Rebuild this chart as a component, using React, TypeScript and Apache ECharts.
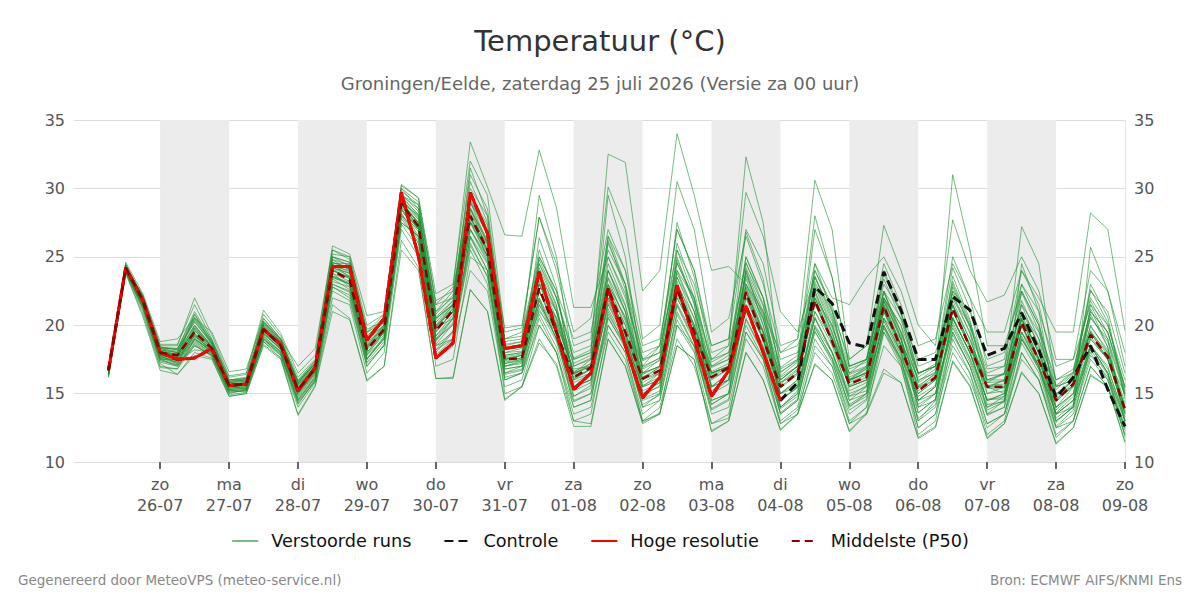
import React, { useEffect, useRef } from "react";
import * as echarts from "echarts";

const FONT = "DejaVu Sans";

// x axis: hours relative to zo 26-07 00:00
const dayHours = [0, 24, 48, 72, 96, 120, 144, 168, 192, 216, 240, 264, 288, 312, 336];
const dayNames = ["zo", "ma", "di", "wo", "do", "vr", "za", "zo", "ma", "di", "wo", "do", "vr", "za", "zo"];
const dayDates = ["26-07", "27-07", "28-07", "29-07", "30-07", "31-07", "01-08", "02-08", "03-08", "04-08", "05-08", "06-08", "07-08", "08-08", "09-08"];
const shadedDays: [number, number][] = [[0, 24], [48, 72], [96, 120], [144, 168], [192, 216], [240, 264], [288, 312]];
const X_MIN = -30;
const X_MAX = 336;
const FIRST_HOUR = -18; // za 25-07 06:00
const STEP_HOURS = 6;

const Y_MIN = 10;
const Y_MAX = 35;
const Y_STEP = 5;

const controle = [
  16.7, 24.2, 21.8, 18.0, 17.5, 17.6, 18.3, 15.6, 15.7, 19.7, 18.6, 15.2, 16.9,
  24.3, 24.3, 18.9, 20.5, 29.7, 25.0, 17.6, 18.7, 29.7, 26.7, 18.3, 18.5,
  23.9, 19.5, 15.3, 16.5, 22.7, 18.5, 14.7, 16.2, 22.9, 19.0, 14.8, 16.7, 21.4, 18.0,
  14.5, 15.8, 22.8, 21.6, 18.7, 18.4, 23.9, 21.1, 17.5, 17.5, 22.1, 21.1, 17.8, 18.3, 20.9, 18.2, 14.7, 16.2, 18.5, 15.3, 12.6,
];

const hogeResolutie = [
  16.7, 24.2, 21.8, 18.0, 17.5, 17.6, 18.3, 15.6, 15.7, 19.7, 18.6, 15.2, 16.9,
  24.3, 24.3, 18.9, 20.5, 29.7, 25.0, 17.6, 18.7, 29.7, 26.7, 18.3, 18.5,
  23.9, 19.5, 15.3, 16.5, 22.7, 18.5, 14.7, 16.2, 22.9, 19.0, 14.8, 16.7, 21.4, 18.0,
  14.5,
];

const middelste = [
  16.7, 24.2, 21.8, 18.0, 17.8, 19.5, 18.3, 15.6, 15.7, 19.7, 18.5, 15.3, 16.8,
  24.0, 23.3, 18.2, 19.7, 28.9, 27.2, 19.6, 21.1, 28.0, 25.5, 17.5, 17.6,
  22.7, 19.5, 16.2, 16.9, 22.7, 19.5, 16.1, 16.7, 22.6, 19.5, 16.2, 16.9, 22.4, 19.0,
  15.5, 16.5, 21.8, 18.8, 15.7, 16.2, 21.4, 18.3, 15.2, 16.2, 21.2, 18.4, 15.5, 15.5, 20.2, 17.4, 14.5, 15.7, 19.3, 17.7, 13.8,
];

const run01 = [16.4,24.0,21.5,17.8,17.2,19.0,18.0,15.4,15.5,19.4,18.3,15.0,16.5, 23.6,23.0,18.0,19.5,29.2,27.8,19.0,20.0,28.5,26.0,17.0,17.4, 21.5,19.0,15.5,16.0,24.0,21.0,15.0,15.8,25.0,21.5,15.5,16.5,24.0,20.0, 14.5,15.5,20.5,18.0,14.8,15.6,22.5,19.0,14.0,15.0,20.0,17.5,14.0,14.8,19.0,17.0,13.5,14.5,18.5,17.0,13.0];
const run02 = [16.8,24.4,22.0,18.4,18.2,21.0,18.9,16.0,16.2,20.5,19.0,15.9,17.2, 25.2,25.0,19.5,20.2,30.0,28.5,20.5,21.5,31.5,28.0,18.5,18.8, 25.5,22.0,17.5,18.0,26.5,23.0,17.0,18.5,27.0,24.0,18.0,18.5,32.3,27.5, 16.5,17.5,23.5,20.5,16.5,17.0,22.0,20.0,16.5,17.0,23.0,20.0,15.8,16.5,27.2,24.5,15.5,16.0,21.0,19.5,15.0];
const run03 = [16.6,24.1,21.7,17.5,17.0,18.5,17.8,15.0,15.3,18.8,17.8,14.2,16.0, 22.8,22.0,17.2,18.5,28.0,26.0,18.5,19.0,26.5,24.0,16.0,16.5, 20.0,18.0,14.0,14.5,20.5,18.5,14.0,14.5,20.0,18.5,13.5,14.0,19.5,17.5, 13.0,14.0,19.0,17.0,13.5,14.5,19.5,17.5,13.0,14.0,18.5,16.5,12.8,13.5,18.0,16.0,12.5,13.5,17.5,16.0,12.0];
const run04 = [16.9,24.3,22.2,18.5,18.5,22.0,19.3,16.3,16.5,21.1,19.4,16.5,17.8, 25.8,25.2,20.7,21.0,30.3,29.3,22.3,23.0,32.0,29.5,19.5,19.8, 27.9,24.0,18.5,19.0,30.1,27.0,19.0,20.0,30.5,27.0,19.5,20.5,26.5,23.0, 18.0,19.0,30.6,27.0,17.5,18.5,24.5,21.5,17.0,17.5,22.5,20.0,16.0,16.5,21.5,19.5,15.0,16.0,22.5,21.0,16.5];
const run05 = [16.5,23.9,21.2,17.2,16.4,17.8,17.5,14.8,15.0,18.5,17.5,13.4,15.5, 21.0,20.4,15.9,17.0,25.5,24.0,16.1,16.1,22.6,21.0,14.5,15.5, 19.0,17.0,12.6,12.6,19.0,17.0,12.8,13.5,18.5,17.5,12.2,13.0,18.0,16.0, 12.3,13.5,17.1,16.0,12.2,13.5,16.5,15.8,11.7,12.5,17.3,15.5,11.7,12.8,16.5,15.0,11.3,12.5,16.3,15.5,11.4];
const run06 = [16.7,24.2,21.9,18.2,18.0,20.0,18.5,15.7,15.8,19.9,18.6,15.5,17.0, 24.2,23.8,18.5,19.8,29.0,27.0,19.8,21.5,29.5,26.5,17.8,18.0, 23.5,20.5,16.5,17.0,22.0,19.0,15.5,16.5,23.5,20.5,16.5,17.0,22.0,19.0, 15.0,16.0,22.5,19.5,15.5,16.0,21.0,18.0,15.0,16.0,21.5,18.5,15.5,15.0,20.0,17.0,14.0,15.5,19.0,17.5,13.5];
const run07 = [16.3,23.9,21.0,17.0,16.8,19.0,18.1,15.3,15.4,19.0,18.1,14.7,16.2, 23.0,22.5,17.5,19.0,28.0,27.0,19.0,20.5,27.0,25.0,16.8,17.0, 24.5,21.5,15.5,16.0,21.5,19.0,14.5,15.0,22.5,20.0,15.0,16.0,21.0,18.5, 14.0,15.0,20.5,18.0,14.5,15.5,21.0,18.5,14.5,15.5,19.5,17.0,13.5,14.0,24.5,21.0,14.0,15.0,20.0,18.0,14.0];
const run08 = [16.6,24.1,21.6,17.9,17.8,19.2,18.2,15.5,15.6,19.6,18.4,15.2,16.7, 24.5,24.5,18.8,20.5,29.5,28.5,20.0,21.0,27.5,26.0,17.2,17.5, 21.0,19.5,16.0,16.8,29.5,25.0,16.5,17.5,27.5,23.5,17.5,18.0,23.0,20.5, 16.0,17.0,23.0,20.0,16.0,16.5,21.8,19.0,15.5,16.0,20.5,18.0,14.5,15.0,19.5,17.0,13.0,14.0,25.7,22.5,17.0];
const run09 = [16.8,24.3,22.1,18.1,17.6,20.8,18.6,15.8,16.0,20.0,18.8,15.8,17.2, 24.8,24.0,18.9,20.0,29.0,28.0,21.0,22.5,30.5,27.5,18.8,19.0, 29.5,25.0,17.0,17.5,24.5,21.5,16.0,17.0,26.0,22.5,17.0,17.5,25.0,22.0, 16.8,17.5,28.0,23.5,17.0,17.5,24.0,21.0,16.5,17.0,25.0,22.0,17.0,17.5,24.0,21.5,16.0,16.5,22.0,20.0,15.5];
const run10 = [16.4,24.0,21.3,17.5,17.5,18.8,17.9,15.2,15.3,19.2,18.0,14.5,16.0, 23.5,23.0,17.8,19.0,28.5,26.5,18.0,19.5,26.0,23.5,16.5,16.8, 22.0,19.0,14.5,15.0,20.0,18.0,13.5,14.5,21.0,18.5,13.8,14.5,20.5,18.0, 13.5,14.5,19.5,17.5,13.0,14.0,20.0,17.5,12.5,13.5,19.5,17.0,12.8,13.5,19.0,17.0,12.5,13.0,17.0,15.5,12.0];
const run11 = [16.7,24.2,22.0,18.6,18.6,21.5,19.0,16.2,16.4,20.8,19.2,16.2,17.5, 25.5,25.0,20.0,20.8,30.0,29.0,21.5,22.0,31.0,28.5,19.0,19.5, 25.0,22.5,19.0,19.5,25.5,23.0,18.0,18.5,24.0,22.0,17.5,18.5,24.5,22.0, 17.5,18.0,24.0,21.5,17.0,17.5,23.0,21.0,16.5,17.0,22.5,21.0,17.5,18.0,23.0,21.0,17.0,17.5,21.5,20.0,16.0];
const run12 = [16.5,24.0,21.4,17.6,17.2,19.8,18.4,15.5,15.6,19.5,18.2,15.0,16.5, 23.8,22.8,17.5,19.2,28.2,26.2,18.8,20.5,28.0,25.0,17.0,17.2, 22.5,20.0,15.5,16.5,22.5,20.0,15.8,16.5,22.0,19.5,15.5,16.5,22.5,19.5, 15.0,16.0,21.5,19.0,15.5,16.0,21.0,18.5,14.5,15.5,21.0,18.5,15.0,15.5,20.0,17.5,14.0,15.0,19.0,17.5,13.5];
const run13 = [16.9,24.6,22.3,18.8,19.0,20.5,19.5,16.6,16.8,20.5,19.0,17.0,18.3, 25.5,24.8,19.0,20.0,29.5,28.0,20.5,21.5,29.0,26.0,18.0,18.3, 23.0,21.0,17.5,18.0,32.5,31.9,22.5,24.0,34.0,29.5,24.0,24.3,23.0,21.0, 18.0,18.5,22.0,20.0,16.5,17.5,22.5,20.5,17.5,18.0,22.0,20.0,16.5,17.0,21.0,19.0,15.5,16.0,20.5,19.0,15.0];
const run14 = [16.2,23.8,20.8,16.9,16.8,18.5,17.8,14.9,15.1,18.8,17.6,14.0,15.8, 22.0,21.5,16.5,18.0,27.0,25.0,17.5,18.5,24.0,22.5,15.5,16.0, 20.5,18.0,13.5,14.0,19.5,17.5,13.0,14.0,19.0,17.0,12.8,13.5,19.0,17.0, 12.8,13.8,18.0,16.5,12.8,14.0,18.5,17.0,12.5,13.5,18.0,16.0,12.5,13.5,17.5,16.0,12.0,13.0,17.0,15.5,12.5];
const run15 = [16.6,24.1,21.8,18.0,17.9,19.6,18.3,15.6,15.7,19.8,18.5,15.4,17.0, 24.3,24.0,18.3,19.8,29.0,27.5,19.5,21.0,28.5,26.0,17.5,17.8, 23.0,20.0,16.8,17.0,23.0,20.5,16.5,17.0,22.8,20.0,16.5,17.0,22.5,19.5, 15.8,16.5,22.0,19.0,16.0,16.5,21.5,18.5,15.5,16.5,21.5,18.5,16.0,16.0,20.5,17.5,14.8,16.0,19.5,18.0,14.0];
const run16 = [16.5,24.0,21.9,18.3,18.3,20.2,18.7,15.9,16.1,20.3,18.9,15.7,17.1, 24.6,24.2,19.2,20.5,29.5,28.8,21.8,22.5,29.0,27.0,19.8,20.0, 27.9,24.5,19.5,20.5,27.0,24.0,18.5,19.0,25.5,23.0,18.5,19.0,29.7,26.5, 21.0,19.5,23.5,21.0,17.5,18.5,27.3,24.0,20.0,18.5,27.7,24.0,21.7,22.2,25.0,22.5,17.5,17.5,24.0,22.5,18.0];
const run17 = [16.7,24.2,21.6,17.7,17.4,18.2,18.0,15.2,15.2,18.9,17.9,14.5,16.2, 23.2,22.8,17.8,19.5,28.5,27.0,18.2,19.0,25.5,23.0,16.0,16.5, 21.5,19.5,14.0,14.5,21.0,18.5,14.0,15.0,24.0,21.0,14.5,15.0,21.5,19.0, 13.5,14.5,20.0,18.0,14.0,15.0,20.5,18.0,13.0,14.5,20.5,18.0,14.5,15.0,20.5,18.0,13.5,14.5,18.0,16.0,12.5];
const run18 = [16.8,24.4,22.0,18.2,17.8,20.0,18.4,15.8,15.9,20.0,18.7,15.6,17.0, 24.5,23.5,18.5,20.0,29.0,27.5,20.0,21.5,28.5,25.5,17.5,17.8, 24.0,21.0,16.5,17.0,23.5,21.0,16.5,17.0,23.5,21.0,16.5,17.0,24.0,21.0, 16.0,17.0,27.0,23.5,17.0,17.5,22.5,19.5,16.0,16.5,31.0,25.5,18.5,18.5,22.5,20.0,15.5,16.5,21.0,19.5,15.5];
const run19 = [16.4,23.9,21.2,17.4,17.1,18.6,17.7,15.1,15.2,19.0,17.8,14.3,15.9, 22.5,21.8,17.0,18.5,27.5,26.5,17.0,17.5,25.0,24.0,15.0,15.5, 20.0,18.0,13.0,13.5,20.0,18.0,13.0,13.5,20.0,18.0,12.8,13.2,19.5,17.5, 12.8,13.5,18.5,17.0,12.8,13.5,19.5,17.0,12.0,13.0,19.0,16.5,12.0,13.0,18.0,16.0,11.8,13.0,18.5,16.5,11.8];
const run20 = [16.7,24.3,21.9,18.1,17.7,19.4,18.2,15.6,15.7,19.7,18.5,15.3,16.8, 24.0,23.5,18.2,19.6,28.8,27.2,19.6,21.0,28.0,25.5,17.5,17.6, 22.5,19.5,16.2,16.8,22.5,19.5,16.0,16.5,22.5,19.5,16.2,17.0,22.5,19.0, 15.5,16.5,21.8,18.8,15.5,16.0,21.5,18.5,15.0,16.0,21.0,18.5,15.5,15.5,20.0,17.5,14.5,15.5,19.5,17.5,14.0];
const run21 = [16.6,24.1,21.7,17.9,17.6,19.0,18.1,15.4,15.5,19.3,18.3,15.1,16.6, 24.0,23.5,18.5,19.5,28.8,27.5,19.8,20.5,27.5,25.0,17.8,18.0, 23.5,21.0,16.5,17.5,24.0,21.0,15.5,16.0,25.5,22.0,15.5,16.0,25.0,22.0, 14.5,15.5,24.5,21.0,16.0,16.5,22.0,20.0,14.5,15.5,22.0,19.5,13.5,14.5,22.5,20.0,13.0,14.0,21.5,19.0,13.0];
const run22 = [16.5,24.0,21.5,17.7,17.3,19.3,18.0,15.3,15.4,19.4,18.2,14.9,16.4, 23.5,23.0,17.5,19.0,27.5,26.5,18.5,19.5,26.5,24.5,16.5,17.0, 25.0,22.5,16.0,16.5,26.0,23.0,15.0,15.5,23.0,20.5,14.5,15.0,22.0,19.5, 14.0,15.0,21.0,19.0,14.5,15.0,20.5,19.0,14.0,14.5,20.5,18.0,14.0,14.5,19.5,17.5,13.5,14.0,18.5,16.5,13.0];
const run23 = [16.8,24.3,22.1,18.4,18.3,20.8,18.9,16.0,16.1,20.2,18.9,16.0,17.4, 25.0,24.3,19.7,20.3,29.8,28.8,21.0,22.0,30.0,28.0,19.0,19.2, 24.5,22.0,18.0,18.5,26.5,24.0,17.5,18.5,27.0,24.0,18.5,19.0,27.0,24.5, 18.5,19.0,24.5,22.0,21.5,23.5,25.0,22.5,18.5,19.0,24.5,22.0,19.5,19.5,24.0,22.0,19.5,19.5,28.2,27.0,19.6];
const run24 = [16.6,24.1,21.8,17.8,17.5,19.6,18.3,15.6,15.7,19.6,18.4,15.2,16.7, 23.8,23.2,18.0,19.5,28.5,27.0,19.2,20.5,27.5,25.5,17.2,17.4, 22.0,19.5,15.5,16.0,22.0,19.5,15.5,16.0,22.0,19.5,15.5,16.0,21.5,19.0, 15.0,15.5,21.0,18.5,15.0,15.5,20.5,18.0,14.5,15.0,20.5,18.0,14.5,14.8,19.5,17.0,13.5,14.5,18.5,16.5,13.0];
const run25 = [16.5,24.5,22.0,18.3,18.0,20.5,18.8,15.9,16.0,20.2,18.9,15.8,17.3, 25.0,24.6,19.5,20.8,30.2,29.3,21.5,22.8,33.4,30.1,26.6,26.5, 32.8,28.6,21.3,21.3,25.0,22.0,17.5,18.0,24.5,22.0,16.5,17.0,23.0,20.0, 16.0,17.0,22.5,19.5,16.0,17.0,22.0,19.5,16.5,17.0,21.5,19.0,15.5,16.0,20.5,18.0,15.0,15.5,19.5,17.5,15.0];
const run26 = [16.2,23.8,20.6,16.7,16.4,18.0,17.6,14.8,15.0,18.6,17.6,13.5,15.6, 21.5,20.5,16.0,17.0,26.2,24.2,16.1,16.2,22.6,21.0,14.6,15.5, 18.7,17.2,13.0,12.8,19.0,17.0,12.9,13.6,18.5,17.5,12.3,13.0,18.0,16.0, 12.4,13.5,17.2,16.0,12.3,13.6,16.8,15.8,11.8,12.6,17.4,15.6,11.8,12.8,16.6,15.0,11.4,12.5,16.4,15.5,11.5];
const run27 = [16.6,24.2,21.7,17.9,17.7,19.8,18.4,15.5,15.8,19.9,18.6,15.6,17.0, 24.2,23.6,18.6,19.9,28.6,27.4,19.9,21.3,27.8,25.3,17.7,17.9, 23.2,20.2,16.6,17.2,23.4,20.3,16.4,17.0,23.2,20.0,16.0,16.8,22.8,19.6, 15.8,16.8,22.3,19.3,15.9,16.6,22.0,18.9,15.6,16.4,21.8,18.9,15.8,15.9,20.8,17.9,14.9,15.9,19.9,18.2,14.3];
const run28 = [16.5,24.0,21.6,17.6,17.3,19.1,18.0,15.3,15.4,19.2,18.1,14.8,16.3, 23.4,22.6,17.6,19.1,28.1,26.4,18.6,20.1,27.0,24.6,16.8,17.0, 21.8,19.0,15.2,15.8,21.6,19.2,15.2,15.8,21.5,19.0,15.0,15.7,21.2,18.4, 14.6,15.4,20.6,18.1,14.8,15.2,20.3,17.8,14.2,15.0,20.2,17.6,14.6,14.6,19.2,16.8,13.6,14.8,18.6,16.8,13.3];
const run29 = [16.7,24.3,22.0,18.2,18.0,20.3,18.6,15.8,15.9,20.1,18.8,15.7,17.2, 24.8,24.4,19.0,20.3,29.2,27.9,20.4,21.8,29.0,26.6,18.2,18.4, 23.8,21.2,17.0,17.6,24.0,21.4,16.9,17.6,23.8,21.0,16.9,17.5,23.4,20.4, 16.3,17.3,22.8,19.8,16.4,16.9,22.4,19.4,15.9,16.8,22.3,19.4,16.3,16.4,21.5,18.4,15.3,16.4,20.6,18.8,14.8];
const run30 = [16.6,24.1,21.8,18.0,17.8,19.4,18.3,15.6,15.7,19.7,18.5,15.2,16.8, 24.1,23.4,18.3,19.6,28.9,27.2,19.5,21.0,27.9,25.4,17.4,17.6, 22.6,19.4,16.1,16.8,22.7,19.3,16.1,16.6,22.5,19.3,16.1,16.8,22.4,18.9, 15.4,16.4,21.7,18.7,15.6,16.2,21.3,18.2,15.2,16.1,21.1,18.3,15.4,15.4,20.1,17.3,14.4,15.6,19.2,17.5,13.7];
const run31 = [16.4,23.9,21.3,17.3,17.0,18.7,17.8,15.1,15.2,19.0,17.9,14.4,15.9, 22.8,22.2,17.0,18.6,27.4,25.6,17.8,19.0,25.8,23.6,16.2,16.5, 20.8,18.4,14.4,15.0,20.6,18.3,14.2,14.9,20.4,18.1,13.9,14.6,20.0,17.6, 13.6,14.6,19.6,17.3,13.8,14.6,19.8,17.2,13.2,14.2,19.3,17.0,13.4,14.0,18.7,16.5,12.6,13.8,17.8,16.2,12.3];
const run32 = [16.8,24.4,22.1,18.4,18.2,20.6,18.8,16.0,16.1,20.3,19.0,15.9,17.4, 25.0,24.6,19.4,20.6,29.6,28.3,20.8,22.2,29.6,27.3,18.6,18.8, 24.8,22.0,17.6,18.2,25.0,22.3,17.4,18.0,24.8,21.8,17.3,18.0,24.6,21.5, 16.9,17.8,23.6,20.7,16.8,17.3,23.4,20.4,16.4,17.2,23.2,20.2,16.8,17.0,22.4,19.6,16.0,16.8,21.8,19.4,15.4];
const run33 = [16.5,24.0,21.5,17.7,17.4,19.3,18.1,15.4,15.5,19.4,18.3,15.0,16.6, 23.6,23.1,17.9,19.3,28.4,26.8,18.9,20.2,27.0,24.8,17.0,17.3, 26.4,22.8,15.8,16.4,21.2,18.8,15.6,16.2,24.6,21.6,15.2,16.0,23.8,20.6, 15.0,15.8,23.2,20.3,15.2,15.8,20.0,17.6,14.8,15.6,23.6,20.4,15.0,15.2,21.8,19.0,13.8,15.0,21.2,18.4,13.6];
const run34 = [16.7,24.2,21.9,18.1,17.9,19.9,18.5,15.7,15.8,19.8,18.6,15.4,16.9, 24.4,23.9,18.7,20.0,29.1,27.7,20.2,21.6,28.6,26.2,18.0,18.1, 21.8,19.0,16.4,17.2,26.2,22.6,16.8,17.4,21.6,19.2,16.6,17.2,26.8,23.4, 16.2,17.0,21.6,19.0,16.2,16.8,23.8,20.8,15.8,16.6,20.6,18.0,15.4,16.0,23.0,20.2,14.6,15.6,23.0,20.6,14.6];
const run35 = [16.6,24.1,21.7,17.8,17.6,19.2,18.2,15.5,15.6,19.5,18.4,15.2,16.7, 24.0,23.4,18.4,19.4,28.7,27.0,19.2,20.8,27.6,25.0,17.3,17.5, 24.2,21.4,14.8,15.6,21.8,19.4,14.8,15.6,21.4,18.8,14.2,15.0,24.2,21.4, 14.0,15.2,19.8,17.6,14.2,15.0,21.8,19.2,13.6,14.6,22.8,19.8,14.2,14.4,21.0,18.6,13.2,14.2,20.8,18.4,12.8];
const run36 = [16.8,24.3,22.0,18.3,18.1,20.4,18.7,15.9,16.0,20.1,18.8,15.8,17.2, 24.6,24.1,19.1,20.2,29.3,28.1,20.6,21.8,29.2,26.8,18.4,18.6, 22.4,20.6,17.2,17.8,23.0,20.6,17.0,17.6,22.2,19.8,17.0,17.8,23.6,20.8, 16.6,17.4,24.0,21.2,16.0,16.8,21.2,18.6,16.2,17.0,24.2,21.2,16.0,16.4,20.4,18.2,15.6,16.6,22.6,20.2,15.2];
const run37 = [16.5,24.0,21.4,17.5,17.1,18.9,17.9,15.2,15.3,19.1,18.0,14.6,16.1, 23.0,22.4,17.3,18.8,27.8,26.0,18.2,19.6,26.4,24.0,16.4,16.7, 21.2,18.8,14.8,15.4,20.8,18.6,14.6,15.2,20.8,18.4,14.2,15.0,20.4,17.9, 13.9,14.8,19.9,17.6,14.1,14.8,19.9,17.4,13.6,14.6,19.8,17.3,13.8,14.4,19.0,16.8,12.9,14.1,18.2,16.4,12.6];
const run38 = [16.7,24.2,21.8,18.0,17.8,19.7,18.4,15.6,15.7,19.7,18.5,15.3,16.9, 24.2,23.8,18.4,19.9,29.0,27.4,19.8,21.2,28.2,25.8,17.6,17.8, 23.0,20.4,16.4,17.0,22.9,20.0,16.2,16.9,22.9,19.8,16.4,17.0,22.7,19.4, 15.7,16.7,22.0,19.1,15.8,16.4,21.7,18.6,15.4,16.3,21.4,18.6,15.6,15.7,20.4,17.6,14.6,15.8,19.6,17.8,14.0];

const verstoordeRuns = [
  run01, run02, run03, run04, run05, run06, run07, run08, run09, run10, run11, run12, run13,
  run14, run15, run16, run17, run18, run19, run20, run21, run22, run23, run24, run25, run26,
  run27, run28, run29, run30, run31, run32, run33, run34, run35, run36, run37, run38,
];

const toPoints = (vals: number[]) => vals.map((v, i) => [FIRST_HOUR + i * STEP_HOURS, v]);

export default function App() {
  const ref = useRef<HTMLDivElement>(null);

  useEffect(() => {
    if (!ref.current) return;
    const chart = echarts.init(ref.current, undefined, { renderer: "svg" });

    const memberColor = "rgba(30,145,48,0.6)";

    const series: any[] = [
      {
        name: "bands",
        type: "line",
        data: [],
        silent: true,
        z: 1,
        markArea: {
          silent: true,
          itemStyle: { color: "#ececec" },
          data: shadedDays.map(([a, b]) => [{ xAxis: a }, { xAxis: b }]),
        },
      },
      ...verstoordeRuns.map((r) => ({
        name: "Verstoorde runs",
        type: "line",
        data: toPoints(r),
        symbol: "none",
        showSymbol: false,
        silent: true,
        z: 2,
        lineStyle: { width: 1, color: memberColor },
        itemStyle: { color: memberColor },
      })),
      {
        name: "Controle",
        type: "line",
        data: toPoints(controle),
        symbol: "none",
        z: 3,
        lineStyle: { width: 3, color: "#111111", type: [9, 5] },
        itemStyle: { color: "#111111" },
      },
      {
        name: "Hoge resolutie",
        type: "line",
        data: toPoints(hogeResolutie),
        symbol: "none",
        z: 4,
        lineStyle: { width: 3, color: "#ff0000" },
        itemStyle: { color: "#ff0000" },
      },
      {
        name: "Middelste (P50)",
        type: "line",
        data: toPoints(middelste),
        symbol: "none",
        z: 5,
        lineStyle: { width: 2.5, color: "#8b0000", type: [8, 5] },
        itemStyle: { color: "#8b0000" },
      },
    ];

    const yLabel = { fontSize: 16, color: "#555", fontFamily: FONT };

    chart.setOption({
      animation: false,
      backgroundColor: "#ffffff",
      textStyle: { fontFamily: FONT },
      title: [
        {
          text: "Temperatuur (°C)",
          left: "center",
          top: 21,
          textStyle: { fontSize: 29, fontWeight: "normal", color: "#333", fontFamily: FONT },
        },
        {
          text: "Groningen/Eelde, zaterdag 25 juli 2026 (Versie za 00 uur)",
          left: "center",
          top: 69,
          textStyle: { fontSize: 18, fontWeight: "normal", color: "#666", fontFamily: FONT },
        },
      ],
      legend: {
        data: ["Verstoorde runs", "Controle", "Hoge resolutie", "Middelste (P50)"],
        top: 527,
        left: "center",
        itemWidth: 26,
        itemHeight: 14,
        itemGap: 32,
        itemStyle: { opacity: 0 },
        textStyle: { fontSize: 17.7, color: "#111", fontFamily: FONT, padding: [0, 0, 0, 8] },
      },
      grid: { left: 74, right: 75, top: 120, bottom: 138 },
      xAxis: {
        type: "value",
        min: X_MIN,
        max: X_MAX,
        axisLine: { show: false },
        splitLine: { show: false },
        axisTick: {
          show: true,
          customValues: dayHours,
          length: 7,
          lineStyle: { color: "#666", width: 2 },
        },
        axisLabel: {
          customValues: dayHours,
          fontSize: 16,
          color: "#555",
          lineHeight: 21,
          margin: 12,
          fontFamily: FONT,
          formatter: (v: number) => {
            const i = dayHours.indexOf(v);
            return i >= 0 ? `${dayNames[i]}\n${dayDates[i]}` : "";
          },
        },
      },
      yAxis: [
        {
          type: "value",
          min: Y_MIN,
          max: Y_MAX,
          interval: Y_STEP,
          axisLine: { show: false },
          axisTick: { show: false },
          splitLine: { lineStyle: { color: "#dcdcdc", width: 1 } },
          axisLabel: { ...yLabel, margin: 9 },
        },
        {
          type: "value",
          min: Y_MIN,
          max: Y_MAX,
          interval: Y_STEP,
          position: "right",
          axisLine: { show: true, lineStyle: { color: "#e4e4e4" } },
          axisTick: { show: false },
          splitLine: { show: false },
          axisLabel: { ...yLabel, margin: 9 },
        },
      ],
      graphic: [
        {
          type: "text",
          left: 18,
          top: 573,
          style: { text: "Gegenereerd door MeteoVPS (meteo-service.nl)", fill: "#888", fontSize: 13.5, fontFamily: FONT },
        },
        {
          type: "text",
          right: 18,
          top: 573,
          style: { text: "Bron: ECMWF AIFS/KNMI Ens", fill: "#888", fontSize: 13.5, fontFamily: FONT },
        },
      ],
      series,
    });

    return () => chart.dispose();
  }, []);

  return (
    <div
      ref={ref}
      style={{ position: "fixed", left: 0, top: 0, width: 1200, height: 600, background: "#fff" }}
    />
  );
}
